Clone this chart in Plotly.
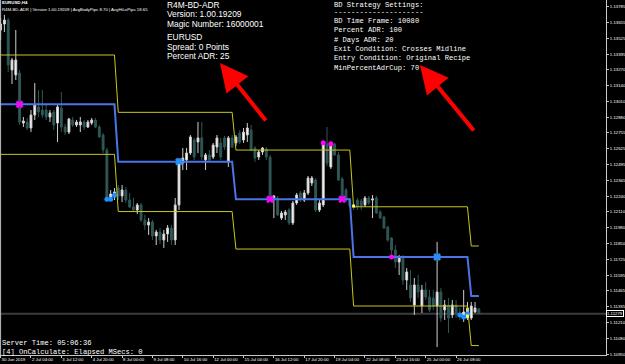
import plotly.graph_objects as go

# ---------------- data ----------------
x_tick_idx = [0, 8, 16, 24, 32, 40, 48, 56, 64, 72, 80, 88, 96, 104, 112, 120]
x_tick_text = ["30 Jun 2019", "2 Jul 04:00", "3 Jul 12:00", "4 Jul 20:00", "8 Jul 00:00",
               "9 Jul 08:00", "10 Jul 16:00", "12 Jul 00:00", "15 Jul 04:00", "16 Jul 12:00",
               "17 Jul 20:00", "19 Jul 04:00", "22 Jul 08:00", "23 Jul 16:00", "25 Jul 00:00",
               "26 Jul 08:00"]
y_tick_vals = [1.13785, 1.13655, 1.13525, 1.13395, 1.13270, 1.13140, 1.13010, 1.12880,
               1.12755, 1.12625, 1.12495, 1.12365, 1.12240, 1.12110, 1.11980, 1.11850,
               1.11725, 1.11595, 1.11465, 1.11335, 1.11210, 1.11080, 1.10950]

opens = [1.13595, 1.13644, 1.13677, 1.13269, 1.13228, 1.13244, 1.12836, 1.12844, 1.12795, 1.12901,
         1.12967, 1.12942, 1.12942, 1.12885, 1.12926, 1.12836, 1.12958, 1.12803, 1.12762, 1.12860,
         1.12820, 1.12820, 1.12844, 1.12803, 1.12836, 1.12860, 1.12803, 1.12738, 1.12616, 1.12224,
         1.12232, 1.12305, 1.12240, 1.12289, 1.12207, 1.12150, 1.12126, 1.12167, 1.12044, 1.12003,
         1.12028, 1.11914, 1.11946, 1.11881, 1.11930, 1.11979, 1.11881, 1.12167, 1.12509, 1.12534,
         1.12591, 1.12697, 1.12681, 1.12714, 1.12534, 1.12575, 1.12558, 1.12640, 1.12673, 1.12714,
         1.12518, 1.12714, 1.12673, 1.12754, 1.12697, 1.12738, 1.12779, 1.12632, 1.12558, 1.12599,
         1.12624, 1.12558, 1.12224, 1.12224, 1.12060, 1.12085, 1.12126, 1.12020, 1.12183, 1.12265,
         1.12207, 1.12265, 1.12346, 1.12371, 1.12126, 1.12167, 1.12665, 1.12477, 1.12665, 1.12575,
         1.12379, 1.12289, 1.12207, 1.12158, 1.12207, 1.12199, 1.12167, 1.12224, 1.12207, 1.12224,
         1.12109, 1.12069, 1.11987, 1.11897, 1.11799, 1.11701, 1.11734, 1.11554, 1.11514, 1.11350,
         1.11514, 1.11342, 1.11473, 1.11416, 1.11407, 1.11342, 1.11456, 1.11309, 1.11350, 1.11269,
         1.11350, 1.11277, 1.11260, 1.11244, 1.11244, 1.11293, 1.11318]
highs = [1.13693, 1.13718, 1.13693, 1.13367, 1.13595, 1.13269, 1.12885, 1.12877, 1.12942, 1.13162,
         1.13105, 1.13105, 1.12983, 1.12942, 1.12942, 1.12983, 1.13089, 1.12828, 1.12877, 1.12885,
         1.12860, 1.12885, 1.12860, 1.12860, 1.12877, 1.12877, 1.12820, 1.12754, 1.12632, 1.12289,
         1.12305, 1.12330, 1.12330, 1.12314, 1.12265, 1.12224, 1.12183, 1.12183, 1.12085, 1.12060,
         1.12044, 1.11963, 1.11979, 1.11963, 1.12003, 1.12003, 1.12224, 1.12550, 1.12632, 1.12632,
         1.12738, 1.12714, 1.12844, 1.12844, 1.12591, 1.12616, 1.12673, 1.12738, 1.12714, 1.12730,
         1.12730, 1.12738, 1.12738, 1.12779, 1.12795, 1.12836, 1.12820, 1.12648, 1.12616, 1.12640,
         1.12640, 1.12575, 1.12248, 1.12240, 1.12118, 1.12126, 1.12142, 1.12199, 1.12265, 1.12281,
         1.12289, 1.12403, 1.12403, 1.12387, 1.12207, 1.12681, 1.12803, 1.12673, 1.12673, 1.12599,
         1.12395, 1.12305, 1.12224, 1.12183, 1.12224, 1.12216, 1.12240, 1.12240, 1.12248, 1.12240,
         1.12126, 1.12077, 1.11995, 1.11905, 1.11840, 1.11758, 1.11758, 1.11652, 1.11636, 1.11571,
         1.11595, 1.11514, 1.11538, 1.11473, 1.11473, 1.11865, 1.11489, 1.11391, 1.11407, 1.11391,
         1.11391, 1.11326, 1.11473, 1.11375, 1.11375, 1.11375, 1.11326]
lows = [1.13513, 1.13579, 1.13252, 1.13154, 1.13187, 1.12820, 1.12803, 1.12779, 1.12762, 1.12860,
        1.12885, 1.12877, 1.12860, 1.12844, 1.12779, 1.12681, 1.12762, 1.12738, 1.12746, 1.12803,
        1.12803, 1.12762, 1.12779, 1.12795, 1.12820, 1.12795, 1.12714, 1.12591, 1.12216, 1.12207,
        1.12207, 1.12207, 1.12191, 1.12183, 1.12142, 1.12109, 1.12093, 1.12028, 1.11963, 1.11922,
        1.11881, 1.11840, 1.11848, 1.11816, 1.11865, 1.11840, 1.11840, 1.12126, 1.12452, 1.12452,
        1.12575, 1.12534, 1.12591, 1.12534, 1.12452, 1.12518, 1.12542, 1.12591, 1.12534, 1.12616,
        1.12477, 1.12632, 1.12648, 1.12665, 1.12673, 1.12681, 1.12607, 1.12518, 1.12534, 1.12575,
        1.12534, 1.12191, 1.12060, 1.12077, 1.12044, 1.12044, 1.12003, 1.12003, 1.12167, 1.12191,
        1.12191, 1.12248, 1.12322, 1.12109, 1.12109, 1.12150, 1.12485, 1.12460, 1.12567, 1.12363,
        1.12199, 1.12191, 1.12142, 1.12126, 1.12126, 1.12126, 1.12150, 1.12167, 1.12060, 1.12093,
        1.12052, 1.11971, 1.11865, 1.11734, 1.11652, 1.11595, 1.11514, 1.11473, 1.11375, 1.11269,
        1.11407, 1.11285, 1.11391, 1.11293, 1.11309, 1.11007, 1.11212, 1.11228, 1.11122, 1.11244,
        1.11244, 1.11228, 1.11212, 1.11228, 1.11228, 1.11285, 1.11277]
closes = [1.13644, 1.13677, 1.13309, 1.13350, 1.13350, 1.12844, 1.12852, 1.12795, 1.12901, 1.12983,
          1.12926, 1.12901, 1.12885, 1.12918, 1.12820, 1.12967, 1.12803, 1.12762, 1.12869, 1.12820,
          1.12844, 1.12844, 1.12803, 1.12844, 1.12860, 1.12803, 1.12722, 1.12616, 1.12232, 1.12256,
          1.12273, 1.12240, 1.12289, 1.12207, 1.12150, 1.12126, 1.12167, 1.12044, 1.12003, 1.12028,
          1.11914, 1.11946, 1.11881, 1.11930, 1.11979, 1.11881, 1.12167, 1.12509, 1.12550, 1.12591,
          1.12722, 1.12558, 1.12714, 1.12558, 1.12575, 1.12534, 1.12656, 1.12714, 1.12558, 1.12640,
          1.12714, 1.12640, 1.12722, 1.12681, 1.12762, 1.12795, 1.12616, 1.12550, 1.12599, 1.12632,
          1.12558, 1.12216, 1.12240, 1.12085, 1.12101, 1.12109, 1.12020, 1.12183, 1.12248, 1.12207,
          1.12265, 1.12387, 1.12387, 1.12126, 1.12183, 1.12665, 1.12509, 1.12656, 1.12575, 1.12371,
          1.12207, 1.12207, 1.12158, 1.12150, 1.12150, 1.12158, 1.12224, 1.12183, 1.12216, 1.12101,
          1.12060, 1.11979, 1.11881, 1.11799, 1.11701, 1.11734, 1.11554, 1.11620, 1.11407, 1.11514,
          1.11456, 1.11473, 1.11416, 1.11309, 1.11342, 1.11456, 1.11244, 1.11350, 1.11244, 1.11350,
          1.11277, 1.11260, 1.11293, 1.11326, 1.11342, 1.11326, 1.11279]

week_start = [0, 31, 62, 93, 124]
week_end = [30, 61, 92, 123, 126]
band_upper = [1.13391, 1.12923, 1.12615, 1.12152, 1.11832]
band_mid = [1.12988, 1.12520, 1.12213, 1.11742, 1.11423]
band_lower = [1.12580, 1.12113, 1.11807, 1.11342, 1.11019]

magenta_x_idx = [5, 71, 90]
magenta_x_val = [1.12988, 1.12213, 1.12213]
blue_x_idx = [47, 115]
blue_x_val = [1.12520, 1.11742]
magenta_dot_idx = [85, 87, 103]
magenta_dot_val = [1.12675, 1.12667, 1.11742]
blue_dot_idx = [28, 29, 30, 121, 122, 123]
blue_dot_val = [1.12213, 1.12213, 1.12246, 1.11269, 1.11252, 1.11277]
yellow_mark_idx = [93, 123]
yellow_mark_val = [1.12158, 1.11260]

current_price = 1.11279

# ---------------- figure ----------------
W, H = 625, 364
ML, MR, MT, MB = 0, 19, 0, 9
PW, PH = W - ML - MR, H - MT - MB


def px(x, y):
    return x / PW, 1 - y / PH


bars = list(range(len(opens)))
fig = go.Figure()

fig.add_trace(go.Candlestick(
    x=bars, open=opens, high=highs, low=lows, close=closes,
    increasing=dict(line=dict(color="#CFCFCF", width=1), fillcolor="#FFFFFF"),
    decreasing=dict(line=dict(color="#2F5757", width=1), fillcolor="#2F5757"),
    whiskerwidth=0, hoverinfo="skip", showlegend=False))


def step(vals):
    xs, ys = [], []
    for s, e, v in zip(week_start, week_end, vals):
        xs += [s, e]
        ys += [v, v]
    return xs, ys


for vals, col, w in [(band_upper, "#C8C81E", 1), (band_lower, "#C8C81E", 1), (band_mid, "#4A74E8", 2)]:
    xs, ys = step(vals)
    fig.add_trace(go.Scatter(x=xs, y=ys, mode="lines", line=dict(color=col, width=w),
                             hoverinfo="skip", showlegend=False))

fig.add_trace(go.Scatter(x=magenta_x_idx, y=magenta_x_val, mode="markers",
                         marker=dict(symbol="x", size=7, color="#FF00FF"), showlegend=False))
fig.add_trace(go.Scatter(x=blue_x_idx, y=blue_x_val, mode="markers",
                         marker=dict(symbol="x", size=7, color="#1E90FF"), showlegend=False))
fig.add_trace(go.Scatter(x=magenta_dot_idx, y=magenta_dot_val, mode="markers",
                         marker=dict(symbol="circle", size=5, color="#FF00FF"), showlegend=False))
fig.add_trace(go.Scatter(x=blue_dot_idx, y=blue_dot_val, mode="markers",
                         marker=dict(symbol="circle", size=5, color="#1E90FF"), showlegend=False))
fig.add_trace(go.Scatter(x=yellow_mark_idx, y=yellow_mark_val, mode="markers",
                         marker=dict(symbol="square", size=3, color="#FFFF66"), showlegend=False))

fig.add_shape(type="line", xref="paper", yref="y", x0=0, x1=1, y0=current_price, y1=current_price,
              line=dict(color="#3C3C3C", width=2), layer="below")
fig.add_shape(type="line", xref="paper", yref="paper", x0=0.001, x1=0.001, y0=0, y1=1,
              line=dict(color="#BEBEBE", width=1))

ann = []


def text(x, y, s, size, family, color="#FFFFFF", bold=False):
    X, Y = px(x, y)
    ann.append(dict(xref="paper", yref="paper", x=X, y=Y, xanchor="left", yanchor="middle",
                    text=("<b>%s</b>" % s) if bold else s, showarrow=False, borderpad=0,
                    font=dict(size=size, family=family, color=color)))


sans = "Liberation Sans"
mono = "Liberation Mono"

text(1, 2.8, "EURUSD,H4", 4.4, sans, bold=True)
text(1, 9.6, "R4M-BD-ADR | Version 1.00.19209 | AvgBodyPips 8.70 | AvgHiLoPips 18.65", 4.3, sans)

for s, y in [("R4M-BD-ADR", 5.2), ("Version: 1.00.19209", 14.5), ("Magic Number: 16000001", 23.8),
             ("EURUSD", 37), ("Spread: 0 Points", 46.6), ("Percent ADR: 25", 56)]:
    text(166, y, s, 8.4, sans)

for s, y in [("BD Strategy Settings:", 4.6), ("---------------------", 11.6),
             ("BD Time Frame: 10080", 21), ("Percent ADR: 100", 30.3), ("# Days ADR: 20", 39.6),
             ("Exit Condition: Crosses Midline", 49), ("Entry Condition: Original Recipe", 58.4),
             ("MinPercentAdrCup: 70", 67.8)]:
    text(332.5, y, s, 7.1, mono)

text(0.5, 342.8, "Server Time: 05:06:36", 7.1, mono)
text(0.5, 351.5, "[4] OnCalculate: Elapsed MSecs: 0", 7.1, mono)

for tip, tail in [((220, 63), (267, 122)), ((420, 65), (475, 132))]:
    X, Y = px(*tip)
    ann.append(dict(xref="paper", yref="paper", x=X, y=Y, text="", showarrow=True,
                    ax=tail[0] - tip[0], ay=tail[1] - tip[1], arrowcolor="#FF0000",
                    arrowwidth=4, arrowhead=2, arrowsize=1.4, standoff=0, startstandoff=0))

ann.append(dict(xref="paper", yref="y", x=1.0, y=current_price, xanchor="left", yanchor="middle",
                text="1.11279", showarrow=False, bgcolor="#000000", bordercolor="#FFFFFF",
                borderwidth=1, borderpad=0, font=dict(size=4.3, family=sans, color="#FFFFFF")))

fig.update_layout(
    width=W, height=H, margin=dict(l=ML, r=MR, t=MT, b=MB, autoexpand=False),
    paper_bgcolor="#000000", plot_bgcolor="#000000", showlegend=False,
    annotations=ann, hovermode=False,
    xaxis=dict(range=[-0.16, 159.5], tickvals=x_tick_idx, ticktext=x_tick_text,
               showgrid=False, zeroline=False, showline=True, linecolor="#C8C8C8", linewidth=1,
               ticks="outside", ticklen=2, tickcolor="#C8C8C8", tickangle=0, automargin=False,
               ticklabelposition="outside right",
               tickfont=dict(size=4.3, family=sans, color="#FFFFFF"),
               rangeslider=dict(visible=False), fixedrange=True),
    yaxis=dict(range=[1.10942, 1.13840], side="right", tickvals=y_tick_vals,
               ticktext=["%.5f" % v for v in y_tick_vals], automargin=False,
               showgrid=False, zeroline=False, showline=True, linecolor="#C8C8C8", linewidth=1,
               ticks="outside", ticklen=2, tickcolor="#C8C8C8",
               tickfont=dict(size=4.3, family=sans, color="#FFFFFF"), fixedrange=True),
)

fig.write_html("out.html")
